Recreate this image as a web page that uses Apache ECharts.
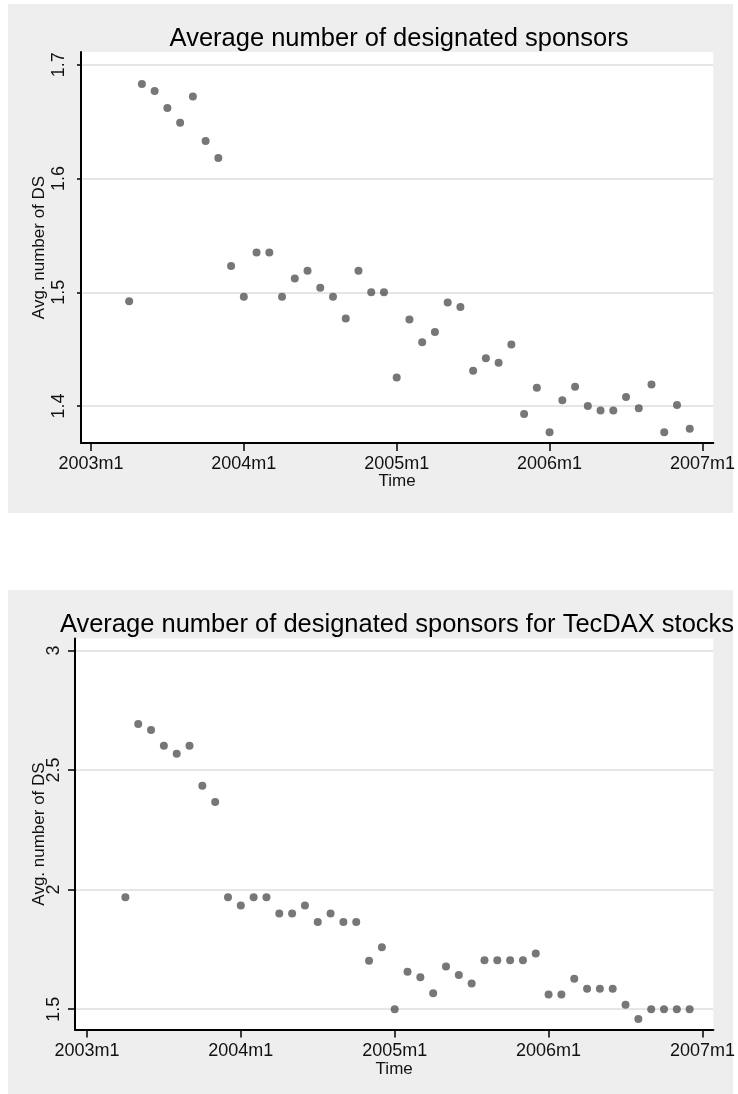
<!DOCTYPE html>
<html>
<head>
<meta charset="utf-8">
<script src="https://cdn.jsdelivr.net/npm/echarts@6/dist/echarts.min.js"></script>
<style>
  html, body { margin: 0; padding: 0; background: #ffffff; }
  #chart { width: 738px; height: 1094px; }
</style>
</head>
<body>
<div id="chart"></div>
<script>
// Monthly observations (Stata %tm style labels)
const months = [
  '2003m4','2003m5','2003m6','2003m7','2003m8','2003m9','2003m10','2003m11','2003m12',
  '2004m1','2004m2','2004m3','2004m4','2004m5','2004m6','2004m7','2004m8','2004m9','2004m10','2004m11','2004m12',
  '2005m1','2005m2','2005m3','2005m4','2005m5','2005m6','2005m7','2005m8','2005m9','2005m10','2005m11','2005m12',
  '2006m1','2006m2','2006m3','2006m4','2006m5','2006m6','2006m7','2006m8','2006m9','2006m10','2006m11','2006m12'
];

// Average number of designated sponsors, all stocks
const avgDS = [
  1.492, 1.683, 1.677, 1.662, 1.649, 1.672, 1.633, 1.618, 1.523,
  1.496, 1.535, 1.535, 1.496, 1.512, 1.519, 1.504, 1.496, 1.477, 1.519, 1.500, 1.500,
  1.425, 1.476, 1.456, 1.465, 1.491, 1.487, 1.431, 1.442, 1.438, 1.454, 1.393, 1.416,
  1.377, 1.405, 1.417, 1.400, 1.396, 1.396, 1.408, 1.398, 1.419, 1.377, 1.401, 1.380
];

// Average number of designated sponsors, TecDAX stocks
const avgDSTecDAX = [
  1.968, 2.692, 2.667, 2.602, 2.568, 2.602, 2.434, 2.366, 1.968,
  1.934, 1.968, 1.968, 1.900, 1.900, 1.934, 1.864, 1.900, 1.864, 1.864, 1.703, 1.759,
  1.500, 1.656, 1.634, 1.567, 1.678, 1.643, 1.607, 1.705, 1.705, 1.705, 1.705, 1.733,
  1.561, 1.561, 1.627, 1.585, 1.585, 1.585, 1.519, 1.459, 1.500, 1.500, 1.500, 1.500
];

// Axis tick labels
const xTickLabels = ['2003m1', '2004m1', '2005m1', '2006m1', '2007m1'];
const yTicksAll = [1.4, 1.5, 1.6, 1.7];
const yTicksTecDAX = [1.5, 2, 2.5, 3];

const FONT = "'Liberation Sans', Arial, Helvetica, sans-serif";
const TEXT = '#111111';
const DOT = '#555555';

// month label -> months since 2003m1, and back
const toIndex = s => { const p = s.split('m').map(Number); return (p[0] - 2003) * 12 + (p[1] - 1); };
const fromIndex = v => (2003 + Math.floor(v / 12)) + 'm' + (Math.round(v) % 12 + 1);
const xTicks = xTickLabels.map(toIndex);

function xAxisFor(gridIndex, min, max, labelMargin, nameGap) {
  return {
    type: 'value', gridIndex, min, max,
    axisLine: { show: true, onZero: false, lineStyle: { color: '#000', width: 2 } },
    axisTick: { show: true, customValues: xTicks, length: 8, lineStyle: { color: '#000', width: 1.5 } },
    axisLabel: {
      customValues: xTicks, formatter: fromIndex, margin: labelMargin,
      fontSize: 18, color: TEXT, fontFamily: FONT, hideOverlap: false
    },
    splitLine: { show: false },
    name: 'Time', nameLocation: 'middle', nameGap, nameMoveOverlap: false,
    nameTextStyle: { fontSize: 17, color: TEXT, fontFamily: FONT }
  };
}

function yAxisFor(gridIndex, min, max, ticks, tickLen, labelMargin, nameGap) {
  return {
    type: 'value', gridIndex, min, max,
    axisLine: { show: true, onZero: false, lineStyle: { color: '#000', width: 2 } },
    axisTick: { show: true, customValues: ticks, length: tickLen, lineStyle: { color: '#000', width: 1.5 } },
    axisLabel: {
      customValues: ticks, rotate: 90, margin: labelMargin,
      fontSize: 18, color: TEXT, fontFamily: FONT, hideOverlap: false
    },
    splitLine: { show: true, lineStyle: { color: '#e6e6e6', width: 2 } },
    name: 'Avg. number of DS', nameLocation: 'middle', nameRotate: 90, nameGap, nameMoveOverlap: false,
    nameTextStyle: { fontSize: 17, color: TEXT, fontFamily: FONT }
  };
}

const chart = echarts.init(document.getElementById('chart'), null, { renderer: 'canvas' });

chart.setOption({
  backgroundColor: '#ffffff',
  animation: false,
  graphic: [
    { type: 'rect', silent: true, z: -100, shape: { x: 8, y: 4, width: 725, height: 509 }, style: { fill: '#eeeeee' } },
    { type: 'rect', silent: true, z: -100, shape: { x: 8, y: 590, width: 725, height: 504 }, style: { fill: '#eeeeee' } }
  ],
  title: [
    {
      text: 'Average number of designated sponsors',
      left: 394, top: 21, textAlign: 'center',
      textStyle: { fontSize: 25.5, fontWeight: 'normal', color: '#000', fontFamily: FONT }
    },
    {
      text: 'Average number of designated sponsors for TecDAX stocks',
      left: 392, top: 607, textAlign: 'center',
      textStyle: { fontSize: 25.5, fontWeight: 'normal', color: '#000', fontFamily: FONT }
    }
  ],
  grid: [
    { left: 81, top: 52, width: 634, height: 391, show: true, backgroundColor: '#ffffff', borderWidth: 0, containLabel: false },
    { left: 75, top: 638.5, width: 640, height: 391, show: true, backgroundColor: '#ffffff', borderWidth: 0, containLabel: false }
  ],
  xAxis: [
    xAxisFor(0, -0.78, 48.85, 12, 29.5),
    xAxisFor(1, -0.93, 48.85, 13, 31.5)
  ],
  yAxis: [
    yAxisFor(0, 1.3675, 1.7112, yTicksAll, 4, 13, 33),
    yAxisFor(1, 1.415, 3.05, yTicksTecDAX, 7, 12, 27)
  ],
  series: [
    {
      type: 'scatter', xAxisIndex: 0, yAxisIndex: 0,
      symbol: 'circle', symbolSize: 8,
      itemStyle: { color: DOT },
      data: months.map((m, i) => [toIndex(m), avgDS[i]])
    },
    {
      type: 'scatter', xAxisIndex: 1, yAxisIndex: 1,
      symbol: 'circle', symbolSize: 8,
      itemStyle: { color: DOT },
      data: months.map((m, i) => [toIndex(m), avgDSTecDAX[i]])
    }
  ]
});
</script>
</body>
</html>
